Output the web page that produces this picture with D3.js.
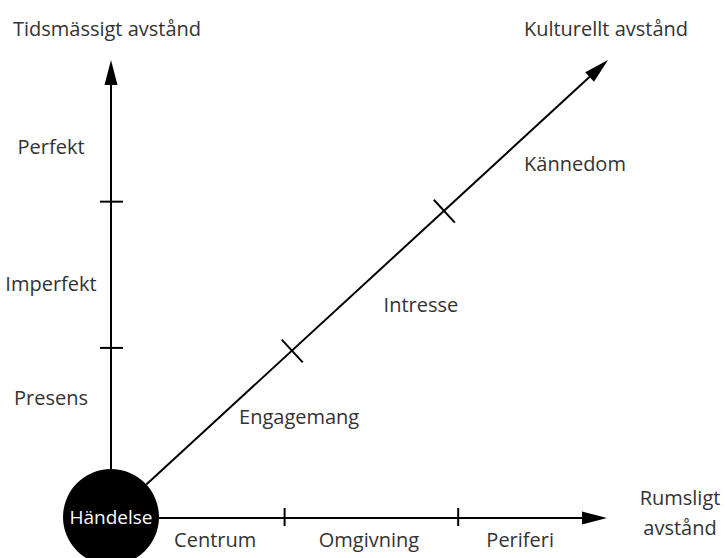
<!DOCTYPE html>
<html>
<head>
<meta charset="utf-8">
<script src="https://cdn.jsdelivr.net/npm/d3@7"></script>
<style>
  body { margin: 0; background: #fff; }
  svg text { font-family: "Open Sans", sans-serif; fill: #333; }
</style>
</head>
<body>
<svg></svg>
<script>
// three axes, each from 0 (the event) to 100 (arrow tip)
const timeLevels = ['Presens', 'Imperfekt', 'Perfekt'];
const timeLabelAt = [26, 51, 81];
const timeTicks = [37, 69];

const spaceLevels = ['Centrum', 'Omgivning', 'Periferi'];
const spaceLabelAt = [21, 52, 82.5];
const spaceTicks = [35, 70];

const cultureLevels = ['Engagemang', 'Intresse', 'Kännedom'];
const cultureLabelAt = [30.5, 55, 86];
const cultureTicks = [36.4, 67];

const axisTitles = ['Tidsmässigt avstånd', 'Kulturellt avstånd', 'Rumsligt avstånd'];

const WIDTH = 725;
const HEIGHT = 558;
const ORIGIN = { x: 111, y: 517 };
const R = 48;
const FONT = 20;

const svg = d3.select('svg').attr('width', WIDTH).attr('height', HEIGHT);

const yTime = d3.scaleLinear().domain([0, 100]).range([ORIGIN.y, 60]);
const xSpace = d3.scaleLinear().domain([0, 100]).range([ORIGIN.x, 607]);

// diagonal axis: distance along the line, then project
const diagTip = { x: 608, y: 60 };
const diagLen = Math.hypot(diagTip.x - ORIGIN.x, diagTip.y - ORIGIN.y);
const u = { x: (diagTip.x - ORIGIN.x) / diagLen, y: (diagTip.y - ORIGIN.y) / diagLen };
const nrm = { x: -u.y, y: u.x }; // points down-right
const sCulture = d3.scaleLinear().domain([0, 100]).range([0, diagLen]);
const diagPt = (v, off = 0) => ({
  x: ORIGIN.x + u.x * sCulture(v) + nrm.x * off,
  y: ORIGIN.y + u.y * sCulture(v) + nrm.y * off
});

const g = svg.append('g');

function arrow(from, to) {
  const len = Math.hypot(to.x - from.x, to.y - from.y);
  const dx = (to.x - from.x) / len, dy = (to.y - from.y) / len;
  const headL = 25, headW = 6.5;
  const bx = to.x - dx * headL, by = to.y - dy * headL;
  g.append('line')
    .attr('x1', from.x).attr('y1', from.y)
    .attr('x2', bx + dx * 2).attr('y2', by + dy * 2)
    .attr('stroke', '#000').attr('stroke-width', 2);
  g.append('path')
    .attr('d', `M${to.x},${to.y}L${bx - dy * headW},${by + dx * headW}L${bx + dy * headW},${by - dx * headW}Z`)
    .attr('fill', '#000');
}

// vertical (time)
arrow({ x: ORIGIN.x, y: ORIGIN.y - R }, { x: ORIGIN.x, y: yTime(100) });
// horizontal (space)
arrow({ x: ORIGIN.x + R, y: ORIGIN.y + 1 }, { x: xSpace(100), y: ORIGIN.y + 1 });
// diagonal (culture)
arrow(diagPt(sCulture.invert(R)), diagTip);

// ticks
g.selectAll('.tick-t').data(timeTicks).enter().append('line')
  .attr('x1', ORIGIN.x - 11).attr('x2', ORIGIN.x + 12)
  .attr('y1', d => yTime(d)).attr('y2', d => yTime(d))
  .attr('stroke', '#000').attr('stroke-width', 2);

g.selectAll('.tick-s').data(spaceTicks).enter().append('line')
  .attr('x1', d => xSpace(d)).attr('x2', d => xSpace(d))
  .attr('y1', ORIGIN.y - 9).attr('y2', ORIGIN.y + 9)
  .attr('stroke', '#000').attr('stroke-width', 2);

g.selectAll('.tick-c').data(cultureTicks).enter().append('line')
  .attr('x1', d => diagPt(d, -15).x).attr('y1', d => diagPt(d, -15).y)
  .attr('x2', d => diagPt(d, 16).x).attr('y2', d => diagPt(d, 16).y)
  .attr('stroke', '#000').attr('stroke-width', 2);

// level labels
g.selectAll('.lab-t').data(timeLevels).enter().append('text')
  .attr('x', 51).attr('y', (d, i) => yTime(timeLabelAt[i]))
  .attr('dy', '0.35em').attr('text-anchor', 'middle')
  .attr('font-size', FONT).text(d => d);

g.selectAll('.lab-s').data(spaceLevels).enter().append('text')
  .attr('x', (d, i) => xSpace(spaceLabelAt[i])).attr('y', 540)
  .attr('dy', '0.35em').attr('text-anchor', 'middle')
  .attr('font-size', FONT).text(d => d);

g.selectAll('.lab-c').data(cultureLevels).enter().append('text')
  .attr('x', (d, i) => diagPt(cultureLabelAt[i], 54).x)
  .attr('y', (d, i) => diagPt(cultureLabelAt[i], 54).y)
  .attr('dy', '0.35em').attr('text-anchor', 'middle')
  .attr('font-size', FONT).text(d => d);

// axis titles
g.append('text').attr('x', 107).attr('y', 29).attr('dy', '0.35em')
  .attr('text-anchor', 'middle').attr('font-size', FONT).text(axisTitles[0]);
g.append('text').attr('x', 606).attr('y', 29).attr('dy', '0.35em')
  .attr('text-anchor', 'middle').attr('font-size', FONT).text(axisTitles[1]);
const rum = g.append('text').attr('text-anchor', 'middle').attr('font-size', FONT);
axisTitles[2].split(' ').forEach((w, i) => {
  rum.append('tspan').attr('x', 680).attr('y', 498 + i * 30).attr('dy', '0.35em').text(w);
});

// the event
g.append('circle').attr('cx', ORIGIN.x).attr('cy', ORIGIN.y).attr('r', R).attr('fill', '#000');
g.append('text').attr('x', ORIGIN.x).attr('y', ORIGIN.y).attr('dy', '0.35em')
  .attr('text-anchor', 'middle').attr('font-size', 19)
  .style('fill', '#fff').text('Händelse');
</script>
</body>
</html>
